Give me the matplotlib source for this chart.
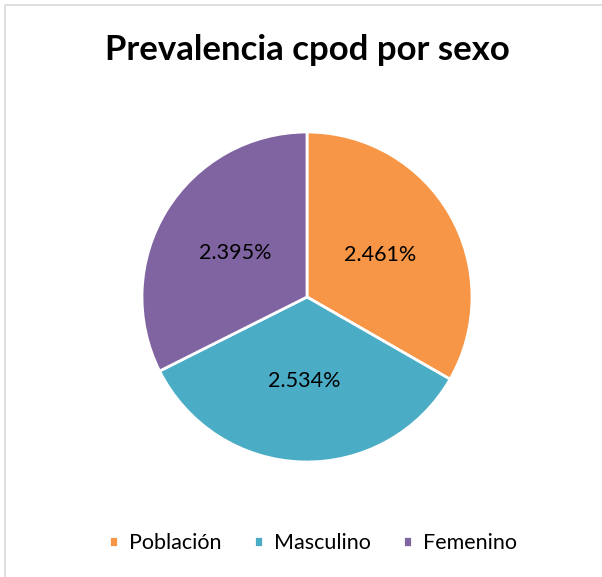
import matplotlib
matplotlib.use("Agg")
import matplotlib.pyplot as plt
from matplotlib.patches import Rectangle

plt.rcParams["font.family"] = ["Lato", "DejaVu Sans"]

TITLE = "Prevalencia cpod por sexo"
CATEGORIES = ["Población", "Masculino", "Femenino"]
VALUES = [2.461, 2.534, 2.395]
COLORS = ["#F79646", "#4BACC6", "#8064A2"]

W, H = 602, 577


def main():
    fig = plt.figure(figsize=(W / 100, H / 100), dpi=100)

    # light chart frame like the Excel chart area
    fig.patches.append(Rectangle((5 / W, -0.1), 1.2, (H - 5) / H + 0.1,
                                 transform=fig.transFigure, fill=False,
                                 edgecolor="#D9D9D9", linewidth=1.2))

    cx, cy, r = 307, H - 297, 165
    ax = fig.add_axes([(cx - r) / W, (cy - r) / H, 2 * r / W, 2 * r / H])

    total = sum(VALUES)
    wedges, _, autotexts = ax.pie(
        VALUES,
        colors=COLORS,
        startangle=90,
        counterclock=False,
        radius=1,
        autopct=lambda p: f"{p * total / 100:.3f}%",
        pctdistance=0.51,
        wedgeprops=dict(edgecolor="white", linewidth=2),
        textprops=dict(fontsize=15.5, color="#000000"),
    )
    ax.set_xlim(-1, 1)
    ax.set_ylim(-1, 1)

    fig.text(0.51, 1 - 50 / H, TITLE, ha="center", va="center",
             fontsize=25, fontweight="bold")

    fig.legend(wedges, CATEGORIES, loc="center", bbox_to_anchor=(0.52, 1 - 543 / H),
               ncol=3, frameon=False, fontsize=15.5, handlelength=0.42,
               handleheight=0.42, columnspacing=1.5, handletextpad=0.5)

    fig.savefig("out.png", dpi=100)


if __name__ == "__main__":
    main()
